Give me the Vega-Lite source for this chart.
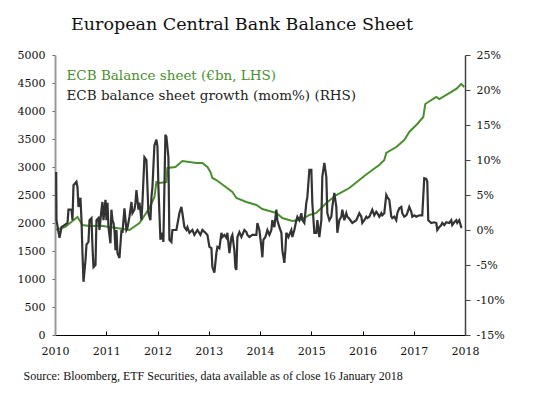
{
  "$schema": "https://vega.github.io/schema/vega-lite/v6.json",
  "width": 410,
  "height": 280,
  "autosize": "none",
  "padding": {"left": 55, "top": 55, "right": 76, "bottom": 62},
  "background": "white",
  "config": {"view": {"stroke": null}, "font": "DejaVu Serif"},
  "title": {"text": "European Central Bank Balance Sheet", "font": "DejaVu Serif", "fontSize": 17.5, "fontWeight": "normal", "color": "#111", "anchor": "middle", "dx": -18, "offset": 16},
  "datasets": {
    "balance": [
      {"t": 2010.023, "value": 1880}, {"t": 2010.2, "value": 1930}, {"t": 2010.439, "value": 2107}, {"t": 2010.536, "value": 1964},
      {"t": 2010.673, "value": 1946}, {"t": 2010.9, "value": 1950}, {"t": 2011.199, "value": 1911}, {"t": 2011.453, "value": 1875},
      {"t": 2011.648, "value": 2000}, {"t": 2011.843, "value": 2268}, {"t": 2011.94, "value": 2464}, {"t": 2011.979, "value": 2732},
      {"t": 2012.037, "value": 2714}, {"t": 2012.174, "value": 2732}, {"t": 2012.193, "value": 2982}, {"t": 2012.349, "value": 3000},
      {"t": 2012.486, "value": 3107}, {"t": 2012.759, "value": 3071}, {"t": 2012.876, "value": 3071}, {"t": 2012.974, "value": 3000},
      {"t": 2013.032, "value": 2911}, {"t": 2013.071, "value": 2804}, {"t": 2013.149, "value": 2768}, {"t": 2013.305, "value": 2661},
      {"t": 2013.461, "value": 2554}, {"t": 2013.539, "value": 2446}, {"t": 2013.734, "value": 2375}, {"t": 2013.929, "value": 2321},
      {"t": 2014.046, "value": 2250}, {"t": 2014.183, "value": 2214}, {"t": 2014.319, "value": 2179}, {"t": 2014.436, "value": 2089},
      {"t": 2014.631, "value": 2036}, {"t": 2014.768, "value": 2054}, {"t": 2014.865, "value": 2089}, {"t": 2014.963, "value": 2143},
      {"t": 2015.099, "value": 2179}, {"t": 2015.197, "value": 2268}, {"t": 2015.294, "value": 2357}, {"t": 2015.392, "value": 2429},
      {"t": 2015.489, "value": 2500}, {"t": 2015.606, "value": 2554}, {"t": 2015.743, "value": 2625}, {"t": 2015.84, "value": 2696},
      {"t": 2015.938, "value": 2768}, {"t": 2016.035, "value": 2839}, {"t": 2016.191, "value": 2946}, {"t": 2016.328, "value": 3036},
      {"t": 2016.425, "value": 3125}, {"t": 2016.464, "value": 3250}, {"t": 2016.659, "value": 3357}, {"t": 2016.815, "value": 3482},
      {"t": 2016.913, "value": 3625}, {"t": 2017.069, "value": 3768}, {"t": 2017.186, "value": 3893}, {"t": 2017.225, "value": 4125},
      {"t": 2017.342, "value": 4196}, {"t": 2017.44, "value": 4250}, {"t": 2017.498, "value": 4214}, {"t": 2017.693, "value": 4321},
      {"t": 2017.83, "value": 4393}, {"t": 2017.927, "value": 4482}, {"t": 2017.986, "value": 4429}
    ],
    "growth": [
      {"t": 2010.023, "pct": 8.3}, {"t": 2010.029, "pct": 1.4}, {"t": 2010.088, "pct": -1.1}, {"t": 2010.127, "pct": 0.4},
      {"t": 2010.185, "pct": 0.7}, {"t": 2010.244, "pct": 1.0}, {"t": 2010.263, "pct": 2.9}, {"t": 2010.322, "pct": 2.9},
      {"t": 2010.341, "pct": 1.4}, {"t": 2010.361, "pct": 6.4}, {"t": 2010.419, "pct": 6.9}, {"t": 2010.439, "pct": 6.1},
      {"t": 2010.458, "pct": 3.3}, {"t": 2010.497, "pct": 4.6}, {"t": 2010.517, "pct": 1.4}, {"t": 2010.536, "pct": -3.3},
      {"t": 2010.556, "pct": -7.4}, {"t": 2010.595, "pct": -4.3}, {"t": 2010.614, "pct": -2.1}, {"t": 2010.653, "pct": -1.7},
      {"t": 2010.673, "pct": 1.4}, {"t": 2010.712, "pct": 1.7}, {"t": 2010.731, "pct": -2.4}, {"t": 2010.751, "pct": -5.3},
      {"t": 2010.79, "pct": -5.0}, {"t": 2010.809, "pct": 1.4}, {"t": 2010.848, "pct": 1.7}, {"t": 2010.868, "pct": 0},
      {"t": 2010.907, "pct": 2.9}, {"t": 2010.926, "pct": 4.0}, {"t": 2010.946, "pct": 1.4}, {"t": 2010.985, "pct": 4.3},
      {"t": 2011.004, "pct": 1.4}, {"t": 2011.024, "pct": 3.9}, {"t": 2011.043, "pct": 0.4}, {"t": 2011.082, "pct": -1.9},
      {"t": 2011.101, "pct": 2.9}, {"t": 2011.121, "pct": 1.4}, {"t": 2011.141, "pct": 1.0}, {"t": 2011.16, "pct": 0},
      {"t": 2011.18, "pct": -2.9}, {"t": 2011.199, "pct": 0}, {"t": 2011.219, "pct": -3.3}, {"t": 2011.258, "pct": -4.0},
      {"t": 2011.297, "pct": 0}, {"t": 2011.316, "pct": -0.4}, {"t": 2011.355, "pct": 3.1}, {"t": 2011.394, "pct": 0},
      {"t": 2011.414, "pct": 0.3}, {"t": 2011.453, "pct": 1.9}, {"t": 2011.492, "pct": 4.0}, {"t": 2011.511, "pct": 2.4},
      {"t": 2011.55, "pct": 2.9}, {"t": 2011.57, "pct": 3.9}, {"t": 2011.589, "pct": 5.7}, {"t": 2011.628, "pct": 2.9},
      {"t": 2011.648, "pct": 3.9}, {"t": 2011.687, "pct": 1.4}, {"t": 2011.706, "pct": 3.9}, {"t": 2011.745, "pct": 10.4},
      {"t": 2011.784, "pct": 10.0}, {"t": 2011.804, "pct": 6.1}, {"t": 2011.823, "pct": 2.4}, {"t": 2011.862, "pct": 1.4},
      {"t": 2011.882, "pct": 4.7}, {"t": 2011.901, "pct": 6.1}, {"t": 2011.94, "pct": 12.1}, {"t": 2011.979, "pct": 12.9},
      {"t": 2011.999, "pct": 11.9}, {"t": 2012.018, "pct": 6.1}, {"t": 2012.057, "pct": -1.4}, {"t": 2012.096, "pct": -0.4},
      {"t": 2012.115, "pct": -1.7}, {"t": 2012.154, "pct": 13.6}, {"t": 2012.174, "pct": 13.3}, {"t": 2012.213, "pct": 10.4},
      {"t": 2012.232, "pct": -1.4}, {"t": 2012.271, "pct": -1.7}, {"t": 2012.291, "pct": 0}, {"t": 2012.369, "pct": 0},
      {"t": 2012.427, "pct": 2.4}, {"t": 2012.466, "pct": 3.3}, {"t": 2012.486, "pct": 2.4}, {"t": 2012.525, "pct": 0.4},
      {"t": 2012.564, "pct": 0}, {"t": 2012.584, "pct": 0.4}, {"t": 2012.623, "pct": -0.4}, {"t": 2012.681, "pct": 0},
      {"t": 2012.72, "pct": -0.7}, {"t": 2012.779, "pct": 0}, {"t": 2012.837, "pct": -0.7}, {"t": 2012.876, "pct": 0},
      {"t": 2012.935, "pct": -0.4}, {"t": 2012.974, "pct": -0.7}, {"t": 2013.013, "pct": -2.4}, {"t": 2013.052, "pct": -2.6},
      {"t": 2013.071, "pct": -5.3}, {"t": 2013.11, "pct": -6.1}, {"t": 2013.149, "pct": -3.3}, {"t": 2013.169, "pct": -2.4},
      {"t": 2013.208, "pct": -2.6}, {"t": 2013.247, "pct": -0.4}, {"t": 2013.266, "pct": -1.0}, {"t": 2013.305, "pct": -0.7},
      {"t": 2013.344, "pct": -1.1}, {"t": 2013.364, "pct": -0.4}, {"t": 2013.403, "pct": -3.3}, {"t": 2013.442, "pct": -1.0},
      {"t": 2013.461, "pct": -0.7}, {"t": 2013.5, "pct": -2.9}, {"t": 2013.52, "pct": -5.4}, {"t": 2013.539, "pct": -5.7},
      {"t": 2013.559, "pct": -1.0}, {"t": 2013.598, "pct": -0.3}, {"t": 2013.637, "pct": -1.0}, {"t": 2013.656, "pct": -0.7},
      {"t": 2013.695, "pct": 0}, {"t": 2013.734, "pct": -0.3}, {"t": 2013.754, "pct": -0.7}, {"t": 2013.793, "pct": -1.0},
      {"t": 2013.851, "pct": -0.7}, {"t": 2013.929, "pct": -0.7}, {"t": 2013.949, "pct": 1.0}, {"t": 2013.988, "pct": 0},
      {"t": 2014.027, "pct": -2.4}, {"t": 2014.046, "pct": -3.9}, {"t": 2014.066, "pct": -1.4}, {"t": 2014.105, "pct": -1.0},
      {"t": 2014.144, "pct": 0}, {"t": 2014.183, "pct": -0.7}, {"t": 2014.222, "pct": 0}, {"t": 2014.241, "pct": 1.4},
      {"t": 2014.28, "pct": 0.4}, {"t": 2014.319, "pct": 2.9}, {"t": 2014.339, "pct": 1.4}, {"t": 2014.378, "pct": 0.4},
      {"t": 2014.417, "pct": -0.4}, {"t": 2014.436, "pct": -2.9}, {"t": 2014.475, "pct": -4.7}, {"t": 2014.495, "pct": -2.9},
      {"t": 2014.514, "pct": -0.4}, {"t": 2014.553, "pct": -1.0}, {"t": 2014.612, "pct": 0}, {"t": 2014.631, "pct": -1.0},
      {"t": 2014.67, "pct": 0}, {"t": 2014.709, "pct": 1.4}, {"t": 2014.729, "pct": 1.9}, {"t": 2014.768, "pct": 1.4},
      {"t": 2014.807, "pct": 2.4}, {"t": 2014.826, "pct": 1.4}, {"t": 2014.865, "pct": 1.0}, {"t": 2014.904, "pct": 3.9},
      {"t": 2014.924, "pct": 4.7}, {"t": 2014.963, "pct": 8.6}, {"t": 2015.002, "pct": 8.6}, {"t": 2015.021, "pct": 3.9},
      {"t": 2015.06, "pct": -0.4}, {"t": 2015.099, "pct": -0.4}, {"t": 2015.119, "pct": 1.4}, {"t": 2015.158, "pct": -1.0},
      {"t": 2015.197, "pct": 1.4}, {"t": 2015.216, "pct": 7.6}, {"t": 2015.255, "pct": 9.6}, {"t": 2015.294, "pct": 7.6},
      {"t": 2015.314, "pct": 2.4}, {"t": 2015.353, "pct": 1.4}, {"t": 2015.392, "pct": 1.9}, {"t": 2015.411, "pct": 3.3},
      {"t": 2015.45, "pct": 5.3}, {"t": 2015.489, "pct": 3.3}, {"t": 2015.509, "pct": -0.4}, {"t": 2015.548, "pct": 1.4},
      {"t": 2015.587, "pct": 1.9}, {"t": 2015.606, "pct": 2.9}, {"t": 2015.645, "pct": 1.4}, {"t": 2015.684, "pct": 2.4},
      {"t": 2015.704, "pct": 1.9}, {"t": 2015.743, "pct": 1.6}, {"t": 2015.801, "pct": 1.0}, {"t": 2015.879, "pct": 1.4},
      {"t": 2015.938, "pct": 2.4}, {"t": 2015.977, "pct": 1.9}, {"t": 2015.996, "pct": 1.0}, {"t": 2016.035, "pct": 1.4},
      {"t": 2016.074, "pct": 1.9}, {"t": 2016.094, "pct": 1.7}, {"t": 2016.133, "pct": 1.9}, {"t": 2016.191, "pct": 2.9},
      {"t": 2016.23, "pct": 2.1}, {"t": 2016.269, "pct": 2.6}, {"t": 2016.289, "pct": 2.4}, {"t": 2016.328, "pct": 1.9},
      {"t": 2016.367, "pct": 2.4}, {"t": 2016.386, "pct": 2.1}, {"t": 2016.425, "pct": 2.4}, {"t": 2016.464, "pct": 5.0},
      {"t": 2016.484, "pct": 4.7}, {"t": 2016.523, "pct": 4.3}, {"t": 2016.562, "pct": 1.9}, {"t": 2016.581, "pct": 1.7},
      {"t": 2016.62, "pct": 1.9}, {"t": 2016.659, "pct": 1.4}, {"t": 2016.679, "pct": 2.4}, {"t": 2016.718, "pct": 3.1},
      {"t": 2016.757, "pct": 3.3}, {"t": 2016.776, "pct": 2.4}, {"t": 2016.815, "pct": 1.9}, {"t": 2016.854, "pct": 2.1},
      {"t": 2016.874, "pct": 2.4}, {"t": 2016.913, "pct": 3.3}, {"t": 2016.952, "pct": 2.6}, {"t": 2016.971, "pct": 1.9},
      {"t": 2017.01, "pct": 2.1}, {"t": 2017.049, "pct": 1.9}, {"t": 2017.108, "pct": 2.1}, {"t": 2017.166, "pct": 2.1},
      {"t": 2017.205, "pct": 7.4}, {"t": 2017.244, "pct": 7.3}, {"t": 2017.264, "pct": 6.9}, {"t": 2017.283, "pct": 1.4},
      {"t": 2017.342, "pct": 1.0}, {"t": 2017.401, "pct": 1.1}, {"t": 2017.44, "pct": 1.0}, {"t": 2017.459, "pct": 0},
      {"t": 2017.498, "pct": 0.4}, {"t": 2017.537, "pct": 0.7}, {"t": 2017.557, "pct": 1.0}, {"t": 2017.596, "pct": 0.7},
      {"t": 2017.635, "pct": 1.1}, {"t": 2017.693, "pct": 1.0}, {"t": 2017.732, "pct": 1.4}, {"t": 2017.751, "pct": 0.7},
      {"t": 2017.79, "pct": 1.1}, {"t": 2017.83, "pct": 1.4}, {"t": 2017.849, "pct": 1.0}, {"t": 2017.888, "pct": 1.4},
      {"t": 2017.927, "pct": 0.4}, {"t": 2017.946, "pct": 0.4}
    ]
  },
  "encoding": {
    "x": {
      "field": "t", "type": "quantitative",
      "scale": {"domain": [2010, 2018], "nice": false, "zero": false},
      "axis": {
        "values": [2010, 2011, 2012, 2013, 2014, 2015, 2016, 2017, 2018],
        "format": "d", "grid": false, "labelFlush": false,
        "domainColor": "#000", "domainWidth": 1,
        "tickColor": "#000", "tickSize": -4, "labelPadding": 14,
        "labelFont": "DejaVu Serif", "labelFontSize": 11, "labelColor": "#111",
        "title": "Source: Bloomberg, ETF Securities, data available as of close 16 January 2018",
        "titleFont": "Liberation Serif", "titleFontSize": 12, "titleFontWeight": "normal", "titleColor": "#111",
        "titleX": -32, "titleY": 40, "titleAlign": "left", "titleAnchor": "start", "titleBaseline": "middle"
      }
    }
  },
  "layer": [
    {
      "data": {"name": "balance"},
      "mark": {"type": "line", "strokeWidth": 2, "interpolate": "linear"},
      "encoding": {
        "y": {
          "field": "value", "type": "quantitative",
          "scale": {"domain": [0, 5000], "nice": false},
          "axis": {
            "orient": "left", "values": [0, 500, 1000, 1500, 2000, 2500, 3000, 3500, 4000, 4500, 5000],
            "format": "d", "grid": false, "title": null,
            "domainColor": "#999", "domainWidth": 2, "tickColor": "#666", "tickSize": 3,
            "labelPadding": 7, "labelFont": "DejaVu Serif", "labelFontSize": 11, "labelColor": "#111"
          }
        },
        "color": {
          "datum": "ECB Balance sheet (€bn, LHS)",
          "scale": {
            "domain": ["ECB Balance sheet (€bn, LHS)", "ECB balance sheet growth (mom%) (RHS)"],
            "range": ["#4a8f2e", "#333333"]
          },
          "legend": {
            "title": null, "orient": "none", "legendX": -2, "legendY": 14,
            "symbolOpacity": 0, "symbolSize": 0, "symbolStrokeWidth": 0,
            "labelFont": "DejaVu Serif", "labelFontSize": 13.5, "labelLimit": 400,
            "labelColor": {"expr": "datum.value == 'ECB Balance sheet (€bn, LHS)' ? '#4a8f2e' : '#222222'"},
            "rowPadding": 5, "labelOffset": 0
          }
        }
      }
    },
    {
      "data": {"name": "growth"},
      "mark": {"type": "line", "strokeWidth": 2.2, "interpolate": "linear"},
      "encoding": {
        "y": {
          "field": "pct", "type": "quantitative",
          "scale": {"domain": [-15, 25], "nice": false, "zero": false},
          "axis": {
            "orient": "right", "values": [-15, -10, -5, 0, 5, 10, 15, 20, 25],
            "labelExpr": "datum.value + '%'", "grid": false, "title": null,
            "domainColor": "#444", "domainWidth": 1.5, "tickColor": "#444", "tickSize": 5,
            "labelPadding": 6, "labelFont": "DejaVu Serif", "labelFontSize": 11, "labelColor": "#111"
          }
        },
        "color": {"datum": "ECB balance sheet growth (mom%) (RHS)"}
      }
    }
  ],
  "resolve": {"scale": {"y": "independent"}}
}
